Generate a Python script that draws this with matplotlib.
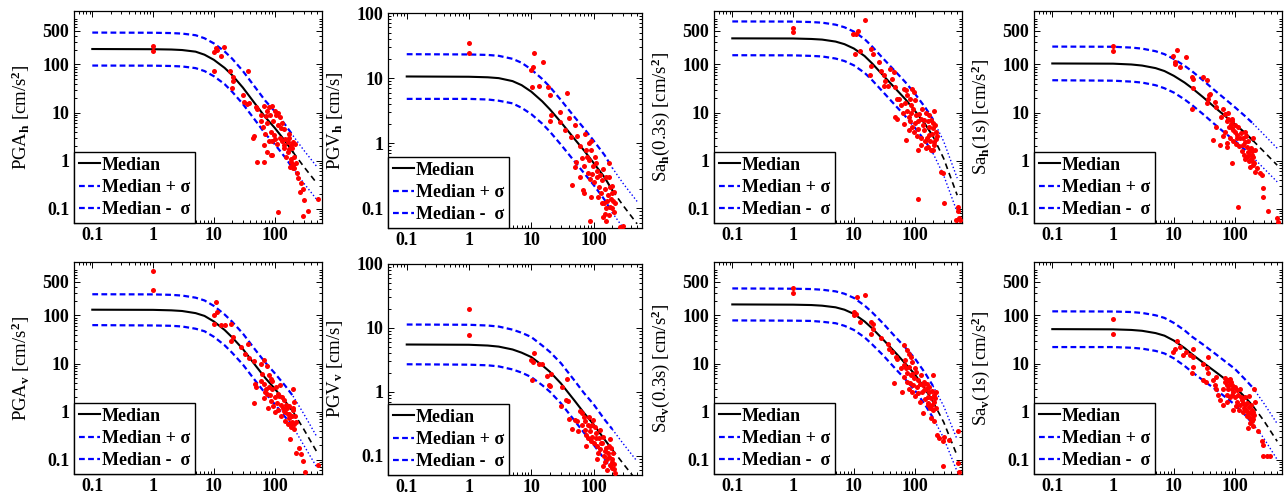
"""
Eight-panel attenuation plot: recorded values vs. distance with the
median model curve and +/- one sigma, horizontal and vertical components.
"""
import numpy as np
import matplotlib
matplotlib.use('Agg')
import matplotlib.pyplot as plt
from matplotlib.ticker import FixedLocator, FixedFormatter, NullFormatter

plt.rcParams['font.family'] = ['Liberation Serif', 'DejaVu Serif']
plt.rcParams['font.weight'] = 'bold'
plt.rcParams['mathtext.fontset'] = 'custom'
plt.rcParams['mathtext.rm'] = 'Liberation Serif:bold'
plt.rcParams['mathtext.it'] = 'Liberation Serif:bold:italic'
plt.rcParams['mathtext.bf'] = 'Liberation Serif:bold'

BLUE = '#0000ff'
RED = '#ff0000'
DASH = (0, (2.6, 1.5))

# ── model curves (distance in km) ─────────────────────────────────────
R_MODEL = [0.1, 1, 2, 3, 5, 7, 10, 15, 20, 30, 50, 70, 100, 150, 200, 300, 500]
R_SPLIT = 14          # index of 200 km: solid up to here, dashed after

PGAH_MED = [210, 208, 205, 200, 185, 160, 125, 85, 60, 33, 14, 8, 4.8, 2.5, 1.5, 0.75, 0.33]
PGAH_UP = [462, 458, 451, 440, 407, 352, 275, 187, 132, 73, 31, 17.6, 10.6, 5.5, 3.3, 1.65, 0.73]
PGAH_LO = [95, 94.5, 93, 91, 84, 73, 57, 39, 27, 15, 6.4, 3.6, 2.2, 1.14, 0.68, 0.34, 0.15]

PGVH_MED = [10.6, 10.5, 10.3, 10, 9, 7.8, 6.2, 4.4, 3.3, 2.1, 1.15, 0.78, 0.5, 0.3, 0.19, 0.11, 0.058]
PGVH_UP = [23.3, 23.1, 22.7, 22, 19.8, 17.2, 13.6, 9.7, 7.3, 4.6, 2.5, 1.7, 1.1, 0.66, 0.42, 0.24, 0.128]
PGVH_LO = [4.8, 4.8, 4.7, 4.5, 4.1, 3.5, 2.8, 2.0, 1.5, 0.95, 0.52, 0.35, 0.23, 0.136, 0.086, 0.05, 0.026]

SAH03_MED = [350, 348, 340, 330, 300, 265, 215, 150, 105, 60, 30, 19, 11, 5.6, 3.2, 1.1, 0.19]
SAH03_UP = [788, 783, 765, 743, 675, 596, 484, 338, 236, 135, 68, 43, 25, 12.6, 7.2, 2.5, 0.43]
SAH03_LO = [156, 155, 151, 147, 133, 118, 96, 67, 47, 27, 13.3, 8.4, 4.9, 2.5, 1.42, 0.49, 0.084]

SAH1_MED = [105, 104, 100, 95, 84, 73, 58, 42, 32, 21, 12, 8.4, 5.8, 3.7, 2.6, 1.55, 0.8]
SAH1_UP = [236, 234, 225, 214, 189, 164, 130, 94, 72, 47, 27, 19, 13, 8.3, 5.9, 3.5, 1.8]
SAH1_LO = [47, 46, 44, 42, 37, 32, 26, 18.7, 14.2, 9.3, 5.3, 3.7, 2.6, 1.64, 1.16, 0.69, 0.36]

PGAV_MED = [132, 131, 128, 124, 112, 98, 75, 50, 35, 20, 8.6, 5, 3, 1.6, 1.0, 0.43, 0.14]
PGAV_UP = [277, 275, 269, 260, 235, 206, 158, 105, 74, 42, 18, 10.5, 6.3, 3.4, 2.1, 0.9, 0.29]
PGAV_LO = [63, 62, 61, 59, 53, 47, 36, 24, 16.7, 9.5, 4.1, 2.4, 1.43, 0.76, 0.48, 0.2, 0.067]

PGVV_MED = [5.5, 5.45, 5.3, 5.1, 4.6, 4.1, 3.5, 2.6, 2.05, 1.35, 0.72, 0.47, 0.31, 0.18, 0.125, 0.075, 0.04]
PGVV_UP = [11.3, 11.2, 10.9, 10.5, 9.4, 8.4, 7.2, 5.3, 4.2, 2.8, 1.48, 0.96, 0.64, 0.37, 0.26, 0.154, 0.082]
PGVV_LO = [2.7, 2.66, 2.6, 2.5, 2.24, 2.0, 1.7, 1.27, 1.0, 0.66, 0.35, 0.23, 0.15, 0.088, 0.061, 0.037, 0.02]

SAV03_MED = [170, 168, 165, 160, 148, 132, 108, 75, 54, 32, 16, 10, 6, 2.9, 1.6, 0.6, 0.12]
SAV03_UP = [366, 361, 355, 344, 318, 284, 232, 161, 116, 69, 34, 21.5, 12.9, 6.2, 3.4, 1.3, 0.26]
SAV03_LO = [79, 78, 77, 74, 69, 61, 50, 35, 25, 15, 7.4, 4.7, 2.8, 1.35, 0.74, 0.28, 0.056]

SAV1_MED = [52, 51.5, 50, 48, 43, 38, 30, 21, 15.5, 10.5, 6.5, 4.7, 3.3, 1.95, 1.3, 0.65, 0.24]
SAV1_UP = [122, 121, 118, 113, 101, 89, 70, 49, 36, 25, 15.3, 11, 7.8, 4.6, 3.1, 1.5, 0.56]
SAV1_LO = [22, 22, 21.3, 20.4, 18.3, 16.2, 12.8, 8.9, 6.6, 4.5, 2.8, 2.0, 1.4, 0.83, 0.55, 0.28, 0.1]

# ── recorded values, (distance km, amplitude) ─────────────────────────
PGAH_OBS = [(1, 245), (1, 190), (10.1, 180), (10.8, 218), (11.3, 200), (14.8, 235), (13, 148),
            (10, 72), (18.6, 74), (20.3, 54), (21, 45), (19.8, 32), (36.7, 72), (29.7, 23.5),
            (31.7, 16.6), (35, 15), (38, 16), (49, 13), (52, 12), (46, 3.3), (44, 2.9), (59, 8.9),
            (67, 13.7), (72, 8.5), (76, 10.7), (81, 12.9), (92, 13.7), (105, 8.7), (124, 8.1),
            (127, 4.7), (87, 4), (98, 3.4), (112, 5.5), (67, 2.1), (76, 1.5), (87, 1.3), (52, 0.95),
            (67, 0.95), (92, 1.3), (144, 2.1), (163, 2.4), (187, 2.1), (197, 2.4), (164, 1.5),
            (182, 0.95), (197, 0.81), (210, 0.69), (225, 0.9), (240, 0.43), (270, 0.34), (290, 0.26),
            (300, 0.15), (510, 0.155), (350, 0.089), (290, 0.07), (112, 0.085),
            (60, 6.5), (65, 5), (70, 3.5), (75, 6), (85, 9), (95, 6.5), (100, 2.8), (110, 2.2),
            (120, 3), (130, 2.6), (140, 1.8), (150, 2.8), (155, 1.2), (170, 1.7), (175, 3),
            (185, 1.1), (195, 1.8), (205, 1.2), (215, 2.2), (200, 0.7), (180, 0.75), (230, 0.55),
            (260, 0.22), (170, 3.5), (90, 2.5), (80, 2.6), (130, 6), (115, 10), (140, 4.5), (100, 11)]

PGVH_OBS = [(1, 35), (1, 24), (10, 13.4), (10.8, 15), (11, 24), (10.4, 7.2), (13.2, 7.7), (15.3, 17.5),
            (18.8, 7.2), (20, 5.6), (21, 2.7), (20, 2.2), (29, 3), (28.8, 2.1), (37, 5.9), (34.5, 1.6),
            (40, 2.4), (42.7, 1.25), (51, 1.9), (53, 0.52), (51, 0.43), (45.6, 0.23), (67, 0.19),
            (70, 0.17), (74, 1.4), (79, 0.61), (84, 1.0), (92, 0.78), (95, 0.34), (99, 0.44),
            (105, 0.61), (87, 0.065), (115, 0.38), (122, 0.21), (130, 0.17), (138, 0.27), (146, 0.12),
            (155, 0.082), (165, 0.13), (176, 0.49), (182, 0.21), (187, 0.105), (198, 0.17), (205, 0.13),
            (210, 0.087), (225, 0.12), (270, 0.051), (300, 0.053),
            (60, 0.9), (65, 0.6), (70, 0.45), (75, 0.8), (80, 0.35), (85, 0.55), (88, 0.28), (90, 1.1),
            (100, 0.25), (110, 0.5), (112, 0.3), (118, 0.15), (125, 0.33), (135, 0.12), (140, 0.4),
            (150, 0.2), (158, 0.3), (160, 0.1), (170, 0.16), (175, 0.08), (180, 0.3), (190, 0.14),
            (195, 0.1), (200, 0.22), (215, 0.18), (160, 0.065), (140, 0.075), (60, 0.3), (90, 0.15),
            (55, 1.3)]

SAH03_OBS = [(1, 570), (1, 470), (9.7, 430), (10.8, 430), (11.5, 500), (15.2, 850), (10.5, 165),
             (12.7, 195), (19, 215), (20.3, 165), (19, 95), (18.6, 59), (26, 115), (28, 72), (31.7, 59),
             (30.7, 36), (36, 36), (33, 46), (40, 79), (42, 50), (45, 70), (47, 34), (51, 19.5),
             (55, 19.5), (47, 8.1), (51, 7.5), (67, 31), (72, 29), (76, 23), (85, 19.5), (92, 31),
             (98, 27), (76, 11), (87, 10), (105, 8.7), (67, 5.9), (72, 2.7), (81, 4.3), (92, 5), (98, 4),
             (112, 6.5), (119, 9.5), (127, 7.5), (135, 5.5), (144, 4.3), (153, 10), (163, 6.5),
             (172, 3.4), (184, 7), (197, 4.7), (210, 11), (225, 4), (167, 1.95), (184, 1.66),
             (197, 1.66), (210, 2.1), (127, 2.1), (112, 1.66), (230, 3.2), (270, 0.59), (290, 0.55),
             (300, 0.13), (112, 0.155), (510, 0.11), (520, 0.087), (540, 0.065), (560, 0.059),
             (480, 0.059),
             (60, 14), (65, 10), (70, 16), (80, 8), (88, 14), (95, 12), (100, 6), (108, 3.2), (115, 4.5),
             (125, 3), (140, 7), (150, 2.5), (160, 3), (170, 5), (180, 2.5), (190, 3.5), (200, 6),
             (205, 2.4), (215, 5.5), (220, 2.8), (175, 9), (100, 18), (130, 12), (155, 1.8), (85, 6.5)]

SAH1_OBS = [(1, 247), (1, 195), (9.8, 148), (10.4, 115), (10.4, 103), (11.1, 205), (12.8, 88),
            (15.7, 141), (19.6, 55), (20.3, 50), (20.8, 32), (19.6, 11.8), (29.6, 55), (34.5, 47),
            (38, 23), (36.7, 19.5), (35.4, 15.5), (40, 24.5), (47, 16.6), (50, 13), (44.6, 2.7), (49, 5),
            (65, 12), (69, 9.5), (74, 6.5), (79, 7.5), (82, 5), (86, 5.9), (89, 4.7), (95, 4.3),
            (92, 7.5), (100, 4), (108, 3.4), (114, 5), (122, 2.9), (65, 3.2), (74, 2.3), (57, 2.1),
            (74, 1.95), (89, 0.87), (138, 2.1), (147, 2.4), (158, 1.95), (168, 1.5), (175, 1.3),
            (179, 1.66), (183, 1.1), (190, 1.3), (197, 0.95), (203, 0.81), (215, 1.66), (203, 2.9),
            (215, 0.59), (230, 0.69), (260, 0.55), (278, 0.5), (295, 0.27), (295, 0.17), (114, 0.107),
            (355, 0.087), (490, 0.065), (510, 0.053),
            (60, 8), (70, 4), (78, 10), (85, 3), (90, 6.5), (95, 2.5), (100, 5.5), (105, 2.2), (110, 3),
            (118, 2), (125, 3.8), (130, 1.6), (135, 3), (140, 1.3), (150, 1.1), (155, 3.2), (160, 1.2),
            (165, 2.5), (170, 1), (185, 1.8), (195, 1.6), (200, 1.2), (210, 0.9), (180, 0.75), (150, 4)]

PGAV_OBS = [(1, 850), (1, 340), (9.9, 103), (10.8, 195), (11.2, 120), (10.1, 66), (13, 62), (15, 64),
            (19, 66), (21, 35), (19, 29), (28, 22), (36, 25), (33, 15.5), (38, 13), (46, 11.2),
            (47, 3.7), (49, 3.2), (45, 1.5), (67, 12), (76, 8.7), (81, 5.9), (87, 4.7), (92, 4.3),
            (59, 4.3), (67, 3.7), (72, 2.9), (76, 2.3), (67, 1.95), (87, 1.66), (105, 3.2), (112, 2.3),
            (119, 2.1), (127, 1.4), (135, 1.2), (144, 1.02), (153, 1.4), (163, 0.87), (172, 0.75),
            (184, 0.59), (197, 1.2), (197, 2.9), (210, 0.55), (205, 1.55), (188, 0.47), (180, 0.27),
            (210, 0.43), (225, 0.14), (255, 0.17), (270, 0.13), (290, 0.095), (310, 0.055), (510, 0.076),
            (62, 6), (70, 2.5), (80, 3.3), (85, 2.2), (90, 3), (95, 1.3), (100, 2), (100, 1.0),
            (108, 1.5), (115, 1.1), (120, 3.5), (125, 0.8), (130, 2), (140, 1.7), (145, 0.65),
            (150, 1.0), (160, 1.2), (165, 0.55), (170, 1.3), (175, 0.9), (190, 0.8), (195, 0.6),
            (200, 1.1), (215, 0.8), (220, 0.6), (60, 10), (78, 1.2)]

PGVV_OBS = [(1, 19.5), (1, 7.7), (10, 3.1), (10.6, 2.9), (11, 4.1), (10.4, 1.55), (13.2, 2.7), (15, 2.7),
            (18, 1.8), (19.2, 1.3), (20, 1.25), (21, 1.9), (31.4, 1.2), (36.8, 1.6), (35.5, 0.74),
            (38.5, 0.72), (30, 0.6), (41, 0.38), (51, 0.36), (55, 0.35), (45, 0.26), (66, 0.47),
            (70, 0.41), (74, 0.35), (77, 0.21), (82, 0.19), (87, 0.29), (89, 0.24), (95, 0.2),
            (99, 0.36), (101, 0.16), (108, 0.23), (114, 0.14), (122, 0.19), (129, 0.126), (138, 0.16),
            (146, 0.1), (155, 0.12), (166, 0.089), (176, 0.14), (182, 0.18), (187, 0.071), (198, 0.08),
            (205, 0.11), (210, 0.063), (218, 0.053), (166, 0.06), (114, 0.089),
            (60, 0.5), (65, 0.3), (72, 0.25), (80, 0.3), (85, 0.4), (90, 0.17), (93, 0.3), (105, 0.28),
            (110, 0.19), (118, 0.11), (125, 0.25), (132, 0.16), (142, 0.2), (150, 0.08), (160, 0.13),
            (170, 0.11), (180, 0.095), (190, 0.13), (195, 0.065), (200, 0.09), (215, 0.075),
            (140, 0.07), (75, 0.14), (56, 0.24)]

SAV03_OBS = [(1, 370), (1, 290), (10.1, 117), (10.8, 108), (11.2, 240), (15.2, 270), (12.7, 73),
             (10.1, 100), (19, 73), (20.3, 67), (21, 53), (19, 42), (28, 34), (36, 26), (38, 20),
             (42, 17.5), (49, 13.7), (52, 12.6), (46, 3.9), (67, 24), (76, 19), (81, 16), (87, 13.7),
             (92, 10.7), (67, 9.3), (72, 7.9), (76, 6.2), (87, 5.7), (98, 4.9), (105, 6.7), (112, 4.6),
             (67, 5.3), (76, 4.2), (81, 3), (92, 2.6), (63, 2.6), (127, 5.7), (135, 3.6), (144, 4.2),
             (153, 3), (163, 2.04), (172, 2.6), (184, 1.9), (197, 5.7), (205, 2.2), (210, 1.6),
             (225, 2.6), (135, 0.93), (163, 1.38), (184, 0.72), (210, 0.62), (230, 0.33), (255, 0.28),
             (290, 0.24), (300, 0.3), (370, 0.26), (290, 0.072), (510, 0.4), (510, 0.085), (540, 0.055),
             (60, 8), (70, 12), (80, 8.5), (85, 4), (90, 6), (95, 3.5), (100, 8), (108, 3.2), (115, 2.4),
             (120, 3.8), (130, 2.5), (140, 2.8), (150, 1.8), (158, 3.8), (165, 1.5), (175, 3.2),
             (180, 1.2), (190, 2.7), (195, 1.4), (200, 1.1), (215, 1.9), (220, 1.2), (100, 2.1),
             (120, 1.6)]

SAV1_OBS = [(1, 85), (1, 41), (9.8, 17.4), (10.4, 20), (11.1, 30), (12.5, 22), (14, 15.4), (15.7, 17),
            (18.4, 15.4), (20.3, 20), (20.8, 8.5), (20.3, 13.7), (19.6, 6.2), (29.6, 10), (36.7, 13.7),
            (34.5, 7.9), (36.7, 6.2), (30.5, 4.5), (33.5, 4.2), (44.6, 4.5), (49, 5.3), (47, 3.6),
            (50, 3), (54, 2.2), (57, 1.74), (65, 3), (69, 4.2), (74, 3.6), (79, 4.5), (82, 3.6),
            (86, 4.2), (89, 3), (95, 2.6), (74, 2.2), (84, 2.04), (74, 1.6), (65, 1.38), (95, 1.07),
            (108, 1.6), (114, 2.2), (122, 1.38), (130, 1.74), (138, 1.0), (147, 1.38), (158, 0.79),
            (168, 1.0), (175, 1.26), (179, 0.72), (183, 0.93), (190, 0.62), (197, 0.85), (203, 1.0),
            (208, 3), (215, 1.6), (168, 0.46), (179, 0.58), (197, 0.51), (245, 0.4), (278, 0.24),
            (288, 0.2), (295, 0.12), (335, 0.117), (380, 0.117),
            (70, 5), (78, 3), (85, 4.8), (90, 2.2), (92, 3.6), (100, 2), (100, 3.3), (105, 1.3),
            (110, 2.8), (118, 1.1), (125, 2), (135, 1.5), (140, 1.2), (150, 2), (155, 1.1), (160, 1.5),
            (165, 0.9), (170, 2.1), (185, 1.4), (195, 1.1), (200, 0.7), (210, 0.85), (120, 3)]

X_TICKS = [0.1, 1, 10, 100]
Y_TICKS_ACC = [0.1, 1, 10, 100, 500]
Y_TICKS_VEL = [0.1, 1, 10, 100]

# axes boxes in pixels: left, top, right, bottom
BOXES = [(74, 11, 322, 223), (388, 13, 642, 228), (714, 11, 962, 223), (1034, 11, 1282, 223),
         (74, 262, 322, 474), (388, 264, 642, 475), (714, 262, 962, 474), (1034, 262, 1282, 474)]

panels = [
    (r'PGA$_{\rm h}$ [cm/s$^{\rm 2}$]', PGAH_MED, PGAH_UP, PGAH_LO, PGAH_OBS, Y_TICKS_ACC),
    (r'PGV$_{\rm h}$ [cm/s]', PGVH_MED, PGVH_UP, PGVH_LO, PGVH_OBS, Y_TICKS_VEL),
    (r'Sa$_{\rm h}$(0.3s) [cm/s$^{\rm 2}$]', SAH03_MED, SAH03_UP, SAH03_LO, SAH03_OBS, Y_TICKS_ACC),
    (r'Sa$_{\rm h}$(1s) [cm/s$^{\rm 2}$]', SAH1_MED, SAH1_UP, SAH1_LO, SAH1_OBS, Y_TICKS_ACC),
    (r'PGA$_{\rm v}$ [cm/s$^{\rm 2}$]', PGAV_MED, PGAV_UP, PGAV_LO, PGAV_OBS, Y_TICKS_ACC),
    (r'PGV$_{\rm v}$ [cm/s]', PGVV_MED, PGVV_UP, PGVV_LO, PGVV_OBS, Y_TICKS_VEL),
    (r'Sa$_{\rm v}$(0.3s) [cm/s$^{\rm 2}$]', SAV03_MED, SAV03_UP, SAV03_LO, SAV03_OBS, Y_TICKS_ACC),
    (r'Sa$_{\rm v}$(1s) [cm/s$^{\rm 2}$]', SAV1_MED, SAV1_UP, SAV1_LO, SAV1_OBS, Y_TICKS_ACC),
]

W, H = 1286, 497
fig = plt.figure(figsize=(W / 100, H / 100), dpi=100)

r = np.array(R_MODEL)
s = R_SPLIT
for (l, t, rr, b), (ylab, med, up, lo, obs, yt) in zip(BOXES, panels):
    ax = fig.add_axes([l / W, 1 - b / H, (rr - l) / W, (b - t) / H])
    med, up, lo = np.array(med), np.array(up), np.array(lo)

    h_up, = ax.plot(r[:s + 1], up[:s + 1], linestyle=DASH, color=BLUE, lw=1.6)
    h_lo, = ax.plot(r[:s + 1], lo[:s + 1], linestyle=DASH, color=BLUE, lw=1.6)
    ax.plot(r[s:], up[s:], ':', color=BLUE, lw=1.0)
    ax.plot(r[s:], lo[s:], ':', color=BLUE, lw=1.0)
    h_med, = ax.plot(r[:s + 1], med[:s + 1], '-', color='k', lw=1.5)
    ax.plot(r[s:], med[s:], linestyle=(0, (3.5, 2.5)), color='k', lw=1.2)

    ox, oy = np.array(obs).T
    ax.scatter(ox, oy, s=13, color=RED, linewidths=0, zorder=4)

    ax.set_xscale('log')
    ax.set_yscale('log')
    ax.set_xlim(0.05, 600)
    ax.set_ylim(0.05, 100 if yt is Y_TICKS_VEL else 1300)

    ax.xaxis.set_major_locator(FixedLocator(X_TICKS))
    ax.xaxis.set_major_formatter(FixedFormatter(['0.1', '1', '10', '100']))
    ax.yaxis.set_major_locator(FixedLocator(yt))
    ax.yaxis.set_major_formatter(FixedFormatter([f'{v:g}' for v in yt]))
    ax.xaxis.set_minor_formatter(NullFormatter())
    ax.yaxis.set_minor_formatter(NullFormatter())
    ax.tick_params(which='both', direction='in', top=True, right=True, width=0.7)
    ax.tick_params(which='major', length=4, labelsize=13)
    ax.tick_params(axis='x', which='major', pad=3)
    ax.tick_params(which='minor', length=2)
    for sp in ax.spines.values():
        sp.set_linewidth(0.9)

    ax.set_ylabel(ylab, fontsize=13.5)
    ax.yaxis.set_label_coords(-0.17, 0.5)

    leg = ax.legend([h_med, h_up, h_lo], ['Median', 'Median + σ', 'Median -  σ'],
                    loc='lower left', borderaxespad=0, fancybox=False,
                    edgecolor='k', framealpha=1, handlelength=1.2,
                    handletextpad=0.1, borderpad=0.25, labelspacing=0.3,
                    prop=dict(size=13, weight='bold'))
    leg.get_frame().set_linewidth(1.0)

fig.savefig('out.png', dpi=100)
